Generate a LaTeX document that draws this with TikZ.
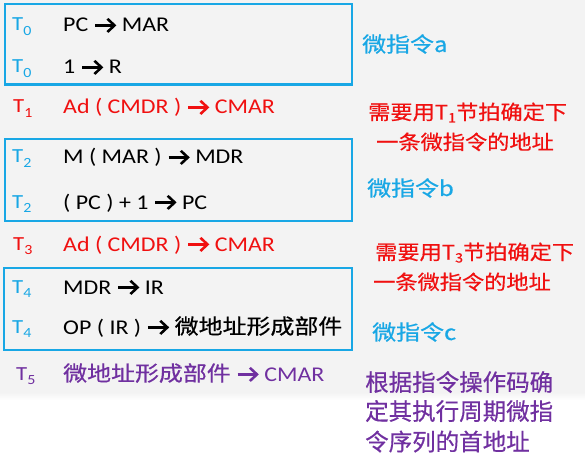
\documentclass[tikz,border=0pt]{standalone}
\usepackage{fontspec}
\setmainfont{Carlito}
\newfontfamily\cjk[FakeBold=0.5]{Noto Sans CJK SC}
\usepackage{graphicx}
\definecolor{cblue}{HTML}{18A7E5}
\definecolor{cred}{HTML}{F01010}
\definecolor{cpurple}{HTML}{7030A0}
\definecolor{bggray}{HTML}{F3F3F3}
\newcommand{\sx}[1]{\scalebox{1.14}[1]{#1}}
\newcommand{\sr}[1]{\scalebox{1.11}[1]{#1}}
\newcommand{\arr}{\tikz[baseline=0pt]{\draw[line width=2.4pt,line cap=butt] (0pt,6.6pt)--(15.5pt,6.6pt); \draw[line width=2.4pt,line join=miter,line cap=butt] (10.8pt,13.2pt)--(17pt,6.6pt)--(10.8pt,0pt);}\hspace{0.5pt}}
\newcommand{\Tl}[1]{{\fontsize{20}{20}\selectfont T\raisebox{-4.5pt}{\fontsize{14}{14}\selectfont #1}}}
\newcommand{\Tr}[1]{T\raisebox{-3pt}{\fontsize{13}{13}\selectfont #1}}
\begin{document}
\begin{tikzpicture}[x=1pt,y=-1pt,
  tlab/.style={anchor=base west,inner sep=0pt,font=\fontsize{20}{20}\selectfont},
  op/.style={anchor=base west,inner sep=0pt,font=\fontsize{21}{21}\selectfont},
  note/.style={anchor=base west,inner sep=0pt,font=\cjk\fontsize{21}{21}\selectfont},
  rnote/.style={anchor=base west,inner sep=0pt,font=\cjk\fontsize{20}{20}\selectfont,text=cred},
  pnote/.style={anchor=base west,inner sep=0pt,font=\cjk\fontsize{23.5}{23.5}\selectfont,text=cpurple},
  grp/.style={draw=cblue,line width=2.8pt}]
\useasboundingbox (0,0) rectangle (585,462);
\fill[bggray] (0,0) rectangle (585,392);
\shade[top color=bggray,bottom color=white] (0,392) rectangle (585,400);
% groups
\draw[grp] (5,4) rectangle (352,84.5) coordinate (g1);
\draw[grp] (5,139) rectangle (352,221) coordinate (g2);
\draw[grp] (4,268) rectangle (352,350) coordinate (g3);
% left column
\node[tlab,text=cblue] (t0a) at (12,31) {\sx{\Tl{0}}};
\node[op] (o1) at (63,32) {\sx{PC \arr\ MAR}};
\node[tlab,text=cblue] (t0b) at (12,73) {\sx{\Tl{0}}};
\node[op] (o2) at (63,74) {\sx{1 \arr\ R}};
\node[tlab,text=cred] (t1) at (13,113) {\sx{\Tl{1}}};
\node[op,text=cred] (o3) at (63,114) {\sx{Ad ( CMDR ) \arr\ CMAR}};
\node[tlab,text=cblue] (t2a) at (12,163) {\sx{\Tl{2}}};
\node[op] (o4) at (63,164) {\sx{M ( MAR ) \arr\ MDR}};
\node[tlab,text=cblue] (t2b) at (12,208) {\sx{\Tl{2}}};
\node[op] (o5) at (63,209) {\sx{( PC ) + 1 \arr\ PC}};
\node[tlab,text=cred] (t3) at (13,250) {\sx{\Tl{3}}};
\node[op,text=cred] (o6) at (63,251) {\sx{Ad ( CMDR ) \arr\ CMAR}};
\node[tlab,text=cblue] (t4a) at (12,293) {\sx{\Tl{4}}};
\node[op] (o7) at (63,294) {\sx{MDR \arr\ IR}};
\node[tlab,text=cblue] (t4b) at (12,333) {\sx{\Tl{4}}};
\node[op] (o8) at (63,334) {\sx{OP ( IR ) \arr\ {\cjk 微地址形成部件}}};
\node[tlab,text=cpurple] (t5) at (16,380) {\sx{\Tl{5}}};
\node[op,text=cpurple] (o9) at (63,381) {\sx{{\cjk 微地址形成部件} \arr\ CMAR}};
% right column
\node[note,text=cblue] (na) at (362,52) {\sx{微指令a}};
\node[rnote] (r1a) at (368,119.5) {\sr{需要用\Tr{1}节拍确定下}};
\node[rnote] (r1b) at (376,149.5) {\sr{一条微指令的地址}};
\node[note,text=cblue] (nb) at (367,196) {\sx{微指令b}};
\node[rnote] (r3a) at (375,259.5) {\sr{需要用\Tr{3}节拍确定下}};
\node[rnote] (r3b) at (373,289.5) {\sr{一条微指令的地址}};
\node[note,text=cblue] (nc) at (372,340) {\sx{微指令c}};
\node[pnote] (p1) at (365,391) {根据指令操作码确};
\node[pnote] (p2) at (365,420) {定其执行周期微指};
\node[pnote] (p3) at (365,450.5) {令序列的首地址};
\end{tikzpicture}
\end{document}
